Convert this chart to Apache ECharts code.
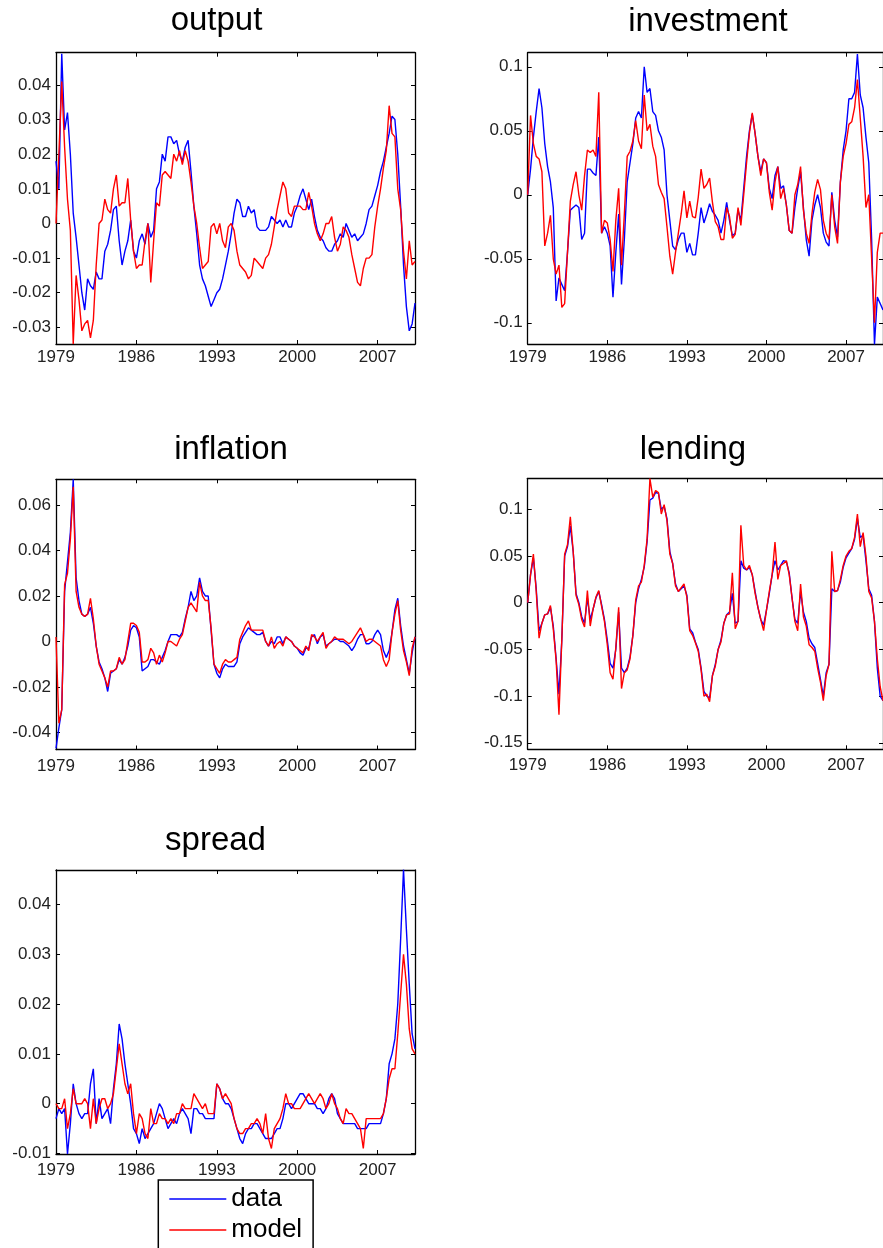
<!DOCTYPE html>
<html>
<head>
<meta charset="utf-8">
<script src="https://cdn.jsdelivr.net/npm/echarts@6/dist/echarts.min.js"></script>
<style>
html,body{margin:0;padding:0;background:#fff;}
#chart{width:883px;height:1248px;}
</style>
</head>
<body>
<div id="chart"></div>
<script>
// ---------------- data (quarterly, 1979Q1 .. 2010Q2) ----------------
const startYear = 1979;
const xTickYears = [1979, 1986, 1993, 2000, 2007];
const seriesNames = ['data', 'model'];

const outputTicks = [-0.03, -0.02, -0.01, 0, 0.01, 0.02, 0.03, 0.04];
const investTicks = [-0.1, -0.05, 0, 0.05, 0.1];
const inflTicks = [-0.04, -0.02, 0, 0.02, 0.04, 0.06];
const lendTicks = [-0.15, -0.1, -0.05, 0, 0.05, 0.1];
const spreadTicks = [-0.01, 0, 0.01, 0.02, 0.03, 0.04];

const outputData = [0.018,0.010,0.049,0.027,0.032,0.020,0.003,-0.004,-0.012,-0.020,
 -0.025,-0.016,-0.018,-0.019,-0.014,-0.016,-0.016,-0.008,-0.006,-0.002,
 0.004,0.005,-0.005,-0.012,-0.008,-0.005,0.001,-0.008,-0.010,-0.005,
 -0.003,-0.006,0.000,-0.004,-0.002,0.010,0.012,0.020,0.018,0.025,
 0.025,0.023,0.024,0.020,0.018,0.022,0.024,0.015,0.005,-0.003,
 -0.012,-0.016,-0.018,-0.021,-0.024,-0.022,-0.020,-0.019,-0.016,-0.012,
 -0.008,-0.003,0.003,0.007,0.006,0.002,0.002,0.005,0.003,0.004,
 -0.001,-0.002,-0.002,-0.002,-0.001,0.002,0.001,0.000,0.001,-0.001,
 0.001,-0.001,-0.001,0.003,0.005,0.008,0.010,0.007,0.004,0.007,
 0.002,-0.002,-0.004,-0.005,-0.007,-0.008,-0.008,-0.006,-0.005,-0.003,
 -0.004,0.000,-0.002,-0.004,-0.003,-0.005,-0.004,-0.003,0.000,0.004,
 0.005,0.008,0.011,0.015,0.018,0.022,0.026,0.031,0.030,0.020,
 0.005,-0.012,-0.024,-0.031,-0.029,-0.023];
const outputModel = [0.000,0.020,0.041,0.022,0.007,-0.002,-0.0348,-0.015,-0.022,-0.031,
 -0.029,-0.028,-0.033,-0.028,-0.012,0.000,0.001,0.007,0.004,0.003,
 0.010,0.014,0.005,0.006,0.006,0.013,0.001,-0.008,-0.013,-0.012,
 -0.012,-0.005,0.000,-0.017,-0.005,0.006,0.005,0.014,0.015,0.014,
 0.013,0.020,0.018,0.021,0.017,0.021,0.018,0.012,0.005,0.000,
 -0.007,-0.013,-0.012,-0.011,-0.001,0.000,-0.003,0.000,-0.005,-0.007,
 -0.001,0.000,-0.002,-0.008,-0.012,-0.013,-0.014,-0.016,-0.015,-0.010,
 -0.011,-0.012,-0.013,-0.010,-0.009,-0.006,-0.001,0.004,0.008,0.012,
 0.010,0.003,0.002,0.005,0.005,0.005,0.004,0.004,0.009,0.005,
 0.000,-0.003,-0.005,-0.003,0.000,0.000,0.002,-0.004,-0.008,-0.006,
 -0.001,-0.002,-0.004,-0.009,-0.013,-0.017,-0.018,-0.013,-0.010,-0.010,
 -0.009,-0.001,0.005,0.010,0.016,0.021,0.034,0.026,0.025,0.010,
 0.004,-0.008,-0.016,-0.005,-0.012,-0.011];

const investData = [0.000,0.020,0.045,0.065,0.083,0.068,0.040,0.022,0.010,-0.010,
 -0.083,-0.065,-0.070,-0.075,-0.045,-0.012,-0.010,-0.008,-0.010,-0.035,
 -0.030,0.020,0.020,0.017,0.015,0.045,-0.030,-0.025,-0.030,-0.040,
 -0.080,-0.045,-0.015,-0.070,-0.035,0.010,0.025,0.040,0.060,0.065,
 0.060,0.100,0.080,0.083,0.065,0.062,0.050,0.045,0.035,0.000,
 -0.020,-0.040,-0.043,-0.035,-0.030,-0.030,-0.045,-0.038,-0.047,-0.047,
 -0.030,-0.010,-0.022,-0.015,-0.007,-0.013,-0.016,-0.020,-0.030,-0.020,
 -0.006,-0.020,-0.032,-0.030,-0.012,-0.020,0.005,0.030,0.050,0.063,
 0.048,0.030,0.018,0.028,0.025,0.005,-0.003,0.015,0.022,0.005,
 0.007,-0.008,-0.028,-0.030,-0.010,0.005,0.018,-0.010,-0.035,-0.048,
 -0.020,-0.008,0.000,-0.010,-0.030,-0.037,-0.040,0.002,-0.020,-0.033,
 0.010,0.035,0.050,0.075,0.075,0.080,0.110,0.078,0.068,0.045,
 0.025,-0.035,-0.117,-0.080,-0.085,-0.090];
const investModel = [0.000,0.062,0.040,0.030,0.028,0.018,-0.040,-0.030,-0.016,-0.050,
 -0.062,-0.055,-0.088,-0.085,-0.045,-0.005,0.008,0.018,0.000,-0.012,
 0.015,0.035,0.033,0.035,0.030,0.080,-0.030,-0.020,-0.022,-0.035,
 -0.060,-0.020,0.005,-0.055,-0.015,0.030,0.034,0.042,0.058,0.042,
 0.036,0.078,0.050,0.055,0.038,0.030,0.008,0.002,-0.003,-0.025,
 -0.048,-0.062,-0.045,-0.030,-0.015,0.003,-0.018,-0.005,-0.017,-0.018,
 -0.002,0.020,0.005,0.008,0.013,-0.006,-0.021,-0.025,-0.035,-0.035,
 -0.010,-0.017,-0.034,-0.031,-0.010,-0.024,0.000,0.025,0.048,0.064,
 0.048,0.030,0.015,0.028,0.025,0.002,-0.012,0.010,0.022,-0.003,
 0.005,-0.008,-0.028,-0.030,0.000,0.008,0.022,-0.012,-0.030,-0.038,
 -0.015,0.002,0.012,0.004,-0.020,-0.030,-0.035,0.000,-0.025,-0.038,
 0.010,0.030,0.040,0.055,0.057,0.068,0.090,0.060,0.030,-0.010,
 0.000,-0.050,-0.100,-0.045,-0.030,-0.030];

const inflData = [-0.047,-0.038,-0.030,0.022,0.035,0.048,0.0713,0.028,0.018,0.012,
 0.011,0.012,0.015,0.008,-0.002,-0.009,-0.012,-0.016,-0.022,-0.014,
 -0.013,-0.012,-0.008,-0.010,-0.007,-0.002,0.005,0.007,0.006,0.002,
 -0.013,-0.012,-0.011,-0.008,-0.008,-0.009,-0.010,-0.007,-0.004,0.000,
 0.003,0.003,0.003,0.002,0.004,0.010,0.015,0.022,0.018,0.020,
 0.028,0.022,0.020,0.020,0.005,-0.010,-0.014,-0.016,-0.012,-0.010,
 -0.011,-0.011,-0.011,-0.009,-0.001,0.002,0.004,0.006,0.005,0.004,
 0.003,0.003,0.004,0.000,-0.002,0.000,-0.001,0.002,0.002,-0.001,
 0.002,0.001,0.000,-0.002,-0.003,-0.005,-0.006,-0.003,-0.003,0.002,
 0.003,-0.001,0.002,0.003,-0.002,-0.001,0.000,0.001,0.001,0.000,
 0.000,-0.001,-0.002,-0.004,-0.002,0.001,0.003,0.003,-0.001,-0.001,
 0.000,0.003,0.005,0.003,-0.004,-0.007,-0.004,0.004,0.014,0.019,
 0.007,-0.002,-0.008,-0.014,-0.005,0.002];
const inflModel = [0.002,-0.036,-0.030,0.025,0.030,0.045,0.068,0.022,0.015,0.012,
 0.011,0.012,0.019,0.010,-0.002,-0.010,-0.013,-0.016,-0.020,-0.013,
 -0.013,-0.012,-0.007,-0.010,-0.008,0.000,0.008,0.008,0.007,0.004,
 -0.009,-0.009,-0.008,-0.003,-0.005,-0.010,-0.006,-0.009,-0.005,0.000,
 0.000,-0.001,-0.002,0.001,0.003,0.009,0.015,0.017,0.015,0.013,
 0.026,0.020,0.018,0.018,0.006,-0.010,-0.012,-0.014,-0.010,-0.008,
 -0.009,-0.009,-0.008,-0.007,0.001,0.004,0.007,0.009,0.005,0.005,
 0.005,0.005,0.005,0.000,-0.002,0.002,-0.003,-0.001,0.000,-0.002,
 0.002,0.001,0.000,-0.002,-0.003,-0.004,-0.005,-0.002,-0.004,0.003,
 0.002,0.000,0.002,0.004,-0.003,-0.001,0.000,0.002,0.001,0.001,
 0.001,0.000,-0.001,0.000,0.002,0.004,0.006,0.003,0.000,0.001,
 0.001,0.000,-0.001,-0.002,-0.008,-0.011,-0.008,0.004,0.012,0.018,
 0.005,-0.004,-0.009,-0.015,-0.003,0.002];

const lendData = [0.000,0.030,0.048,0.015,-0.030,-0.022,-0.013,-0.012,-0.005,-0.025,
 -0.060,-0.098,-0.040,0.050,0.060,0.082,0.055,0.010,0.000,-0.015,
 -0.022,0.005,-0.018,-0.007,0.005,0.012,-0.002,-0.018,-0.040,-0.065,
 -0.070,-0.050,-0.010,-0.070,-0.075,-0.070,-0.058,-0.035,0.000,0.015,
 0.025,0.038,0.065,0.110,0.112,0.118,0.117,0.100,0.103,0.090,
 0.055,0.042,0.020,0.012,0.015,0.018,0.008,-0.028,-0.032,-0.042,
 -0.050,-0.070,-0.095,-0.100,-0.102,-0.078,-0.066,-0.050,-0.040,-0.022,
 -0.013,-0.010,0.010,-0.022,-0.020,0.045,0.037,0.035,0.038,0.030,
 0.012,-0.005,-0.018,-0.024,-0.008,0.010,0.030,0.045,0.035,0.040,
 0.045,0.044,0.032,0.005,-0.018,-0.022,0.012,-0.010,-0.020,-0.038,
 -0.044,-0.048,-0.065,-0.082,-0.100,-0.075,-0.066,0.015,0.012,0.013,
 0.022,0.038,0.048,0.053,0.058,0.068,0.090,0.070,0.072,0.045,
 0.015,0.008,-0.020,-0.070,-0.100,-0.105];
const lendModel = [0.000,0.030,0.052,0.012,-0.038,-0.022,-0.013,-0.012,-0.003,-0.028,
 -0.062,-0.120,-0.040,0.052,0.062,0.092,0.055,0.008,-0.002,-0.018,
 -0.026,0.013,-0.025,-0.007,0.006,0.013,-0.004,-0.020,-0.045,-0.075,
 -0.082,-0.048,-0.005,-0.092,-0.075,-0.072,-0.060,-0.035,0.003,0.018,
 0.022,0.040,0.068,0.133,0.113,0.120,0.118,0.095,0.105,0.088,
 0.052,0.042,0.018,0.012,0.016,0.020,0.006,-0.030,-0.035,-0.043,
 -0.052,-0.072,-0.100,-0.098,-0.106,-0.078,-0.068,-0.050,-0.042,-0.022,
 -0.013,-0.012,0.032,-0.028,-0.020,0.083,0.040,0.035,0.040,0.030,
 0.010,-0.005,-0.018,-0.030,-0.008,0.012,0.030,0.065,0.025,0.040,
 0.042,0.045,0.030,0.005,-0.020,-0.030,0.020,-0.015,-0.025,-0.045,
 -0.048,-0.052,-0.070,-0.085,-0.105,-0.078,-0.066,0.055,0.012,0.013,
 0.025,0.040,0.050,0.055,0.058,0.070,0.095,0.060,0.075,0.050,
 0.012,0.005,-0.020,-0.060,-0.090,-0.105];

const spreadData = [-0.003,-0.001,-0.002,-0.001,-0.0101,-0.004,0.004,0.000,-0.002,-0.003,
 -0.002,-0.002,0.004,0.007,-0.004,0.001,-0.003,-0.002,-0.001,-0.004,
 0.003,0.008,0.016,0.013,0.008,0.004,0.000,-0.005,-0.006,-0.008,
 -0.005,-0.007,-0.006,-0.005,-0.004,-0.002,0.000,-0.001,-0.003,-0.005,
 -0.004,-0.003,-0.004,-0.002,-0.001,-0.002,-0.003,-0.006,-0.001,-0.001,
 -0.002,-0.002,-0.003,-0.003,-0.003,-0.003,0.004,0.003,0.001,0.000,
 0.000,-0.001,-0.003,-0.005,-0.007,-0.008,-0.006,-0.005,-0.005,-0.004,
 -0.004,-0.005,-0.006,-0.007,-0.007,-0.007,-0.006,-0.005,-0.005,-0.003,
 0.000,0.000,-0.001,0.000,0.001,0.002,0.002,0.001,0.000,0.000,
 0.000,-0.001,-0.001,-0.002,-0.001,0.001,0.002,0.001,-0.002,-0.003,
 -0.004,-0.004,-0.004,-0.004,-0.004,-0.005,-0.005,-0.005,-0.005,-0.004,
 -0.004,-0.004,-0.004,-0.004,-0.002,0.001,0.008,0.010,0.013,0.020,
 0.033,0.047,0.035,0.024,0.014,0.011];
const spreadModel = [0.000,-0.001,-0.001,0.001,-0.005,-0.002,0.003,0.000,0.000,0.000,
 0.001,0.000,-0.005,0.001,-0.004,-0.001,0.001,0.001,-0.001,0.000,
 0.002,0.007,0.012,0.008,0.004,0.002,0.004,-0.002,-0.006,-0.002,
 -0.003,-0.006,-0.007,-0.001,-0.004,-0.004,-0.002,-0.003,-0.003,-0.004,
 -0.003,-0.004,-0.002,-0.002,0.000,-0.001,-0.001,-0.001,0.002,0.001,
 0.000,-0.001,0.000,-0.002,-0.002,-0.002,0.004,0.003,0.001,0.002,
 0.001,0.000,-0.003,-0.005,-0.006,-0.006,-0.005,-0.005,-0.004,-0.004,
 -0.003,-0.004,-0.006,-0.002,-0.007,-0.009,-0.005,-0.004,-0.003,-0.001,
 0.002,0.000,0.000,-0.001,-0.001,-0.001,0.000,0.001,0.002,0.001,
 0.000,0.001,0.002,0.001,-0.001,0.000,0.002,0.000,-0.001,-0.003,
 -0.004,-0.001,-0.002,-0.002,-0.003,-0.004,-0.005,-0.009,-0.003,-0.003,
 -0.003,-0.003,-0.003,-0.003,-0.002,0.001,0.005,0.007,0.007,0.014,
 0.022,0.030,0.024,0.015,0.011,0.010];

// quarter dates (x positions) for the 126 observations
const quarters = outputData.map((_, i) => startYear + i / 4);

// ---------------- layout ----------------
const FONT = '"Liberation Sans", Arial, Helvetica, sans-serif';
const panels = [
  { title: 'output', data: outputData, model: outputModel, ticks: outputTicks,
    min: -0.0348, max: 0.0493, box: [56, 52.7, 359, 291.3], tx: 216.5, tby: 32.3, xm: 5 },
  { title: 'investment', data: investData, model: investModel, ticks: investTicks,
    min: -0.1166, max: 0.111, box: [527.7, 52.7, 359, 291.3], tx: 708, tby: 33.3, xm: 5 },
  { title: 'inflation', data: inflData, model: inflModel, ticks: inflTicks,
    min: -0.0475, max: 0.0713, box: [56, 479.3, 359, 270.2], tx: 231, tby: 461, xm: 8 },
  { title: 'lending', data: lendData, model: lendModel, ticks: lendTicks,
    min: -0.157, max: 0.1332, box: [527.7, 478.3, 359, 271], tx: 693, tby: 461.5, xm: 8 },
  { title: 'spread', data: spreadData, model: spreadModel, ticks: spreadTicks,
    min: -0.0101, max: 0.0469, box: [56, 870, 359, 284], tx: 215.5, tby: 852, xm: 7.5 }
];

const lineCol = '#000';
const grids = [], xAxes = [], yAxes = [], series = [], graphics = [];
const xMin = startYear, xMax = startYear + (outputData.length - 1) / 4;

panels.forEach((p, k) => {
  grids.push({ left: p.box[0], top: p.box[1], width: p.box[2], height: p.box[3], containLabel: false });
  ['bottom', 'top'].forEach((pos) => {
    xAxes.push({
      gridIndex: k, type: 'value', position: pos, min: xMin, max: xMax,
      axisLine: { show: true, onZero: false, lineStyle: { color: lineCol, width: 1.3 } },
      axisTick: { show: true, inside: true, length: 4, customValues: xTickYears, lineStyle: { color: lineCol, width: 1 } },
      axisLabel: { show: pos === 'bottom', customValues: xTickYears, fontSize: 17, color: '#222', fontFamily: FONT, margin: p.xm,
        formatter: (v) => String(Math.round(v)) },
      splitLine: { show: false }
    });
  });
  ['left', 'right'].forEach((pos) => {
    yAxes.push({
      gridIndex: k, type: 'value', position: pos, min: p.min, max: p.max,
      axisLine: { show: true, onZero: false, lineStyle: { color: lineCol, width: 1.3 } },
      axisTick: { show: true, inside: true, length: 4, customValues: p.ticks, lineStyle: { color: lineCol, width: 1 } },
      axisLabel: { show: pos === 'left', customValues: p.ticks, fontSize: 17, color: '#222', fontFamily: FONT, margin: 5,
        formatter: (v) => String(Math.round(v * 1000) / 1000) },
      splitLine: { show: false }
    });
  });
  [[seriesNames[0], p.data, '#0000ff'], [seriesNames[1], p.model, '#ff0000']].forEach(([name, vals, col]) => {
    series.push({
      name, type: 'line', xAxisIndex: 2 * k, yAxisIndex: 2 * k,
      data: vals.map((v, i) => [quarters[i], v]),
      symbol: 'none', showSymbol: false, clip: true,
      lineStyle: { color: col, width: 1.4 }, itemStyle: { color: col },
      emphasis: { disabled: true }
    });
  });
  graphics.push({
    type: 'text', x: p.tx, y: p.tby - 11.4,
    style: { text: p.title, font: '33px ' + FONT, fill: '#000', textAlign: 'center', textVerticalAlign: 'middle' }
  });
});

const chart = echarts.init(document.getElementById('chart'), null, { renderer: 'canvas' });
chart.setOption({
  backgroundColor: '#fff',
  animation: false,
  grid: grids,
  xAxis: xAxes,
  yAxis: yAxes,
  series,
  graphic: graphics,
  legend: {
    data: seriesNames, orient: 'vertical', left: 158.3, top: 1180, height: 150,
    icon: 'rect', itemWidth: 57, itemHeight: 1.5, itemGap: 5,
    padding: [6, 11, 20, 11],
    borderColor: '#000', borderWidth: 1.5, backgroundColor: '#fff',
    textStyle: { fontSize: 26, color: '#000', fontFamily: FONT, lineHeight: 26 },
    selectedMode: false
  }
});
</script>
</body>
</html>
